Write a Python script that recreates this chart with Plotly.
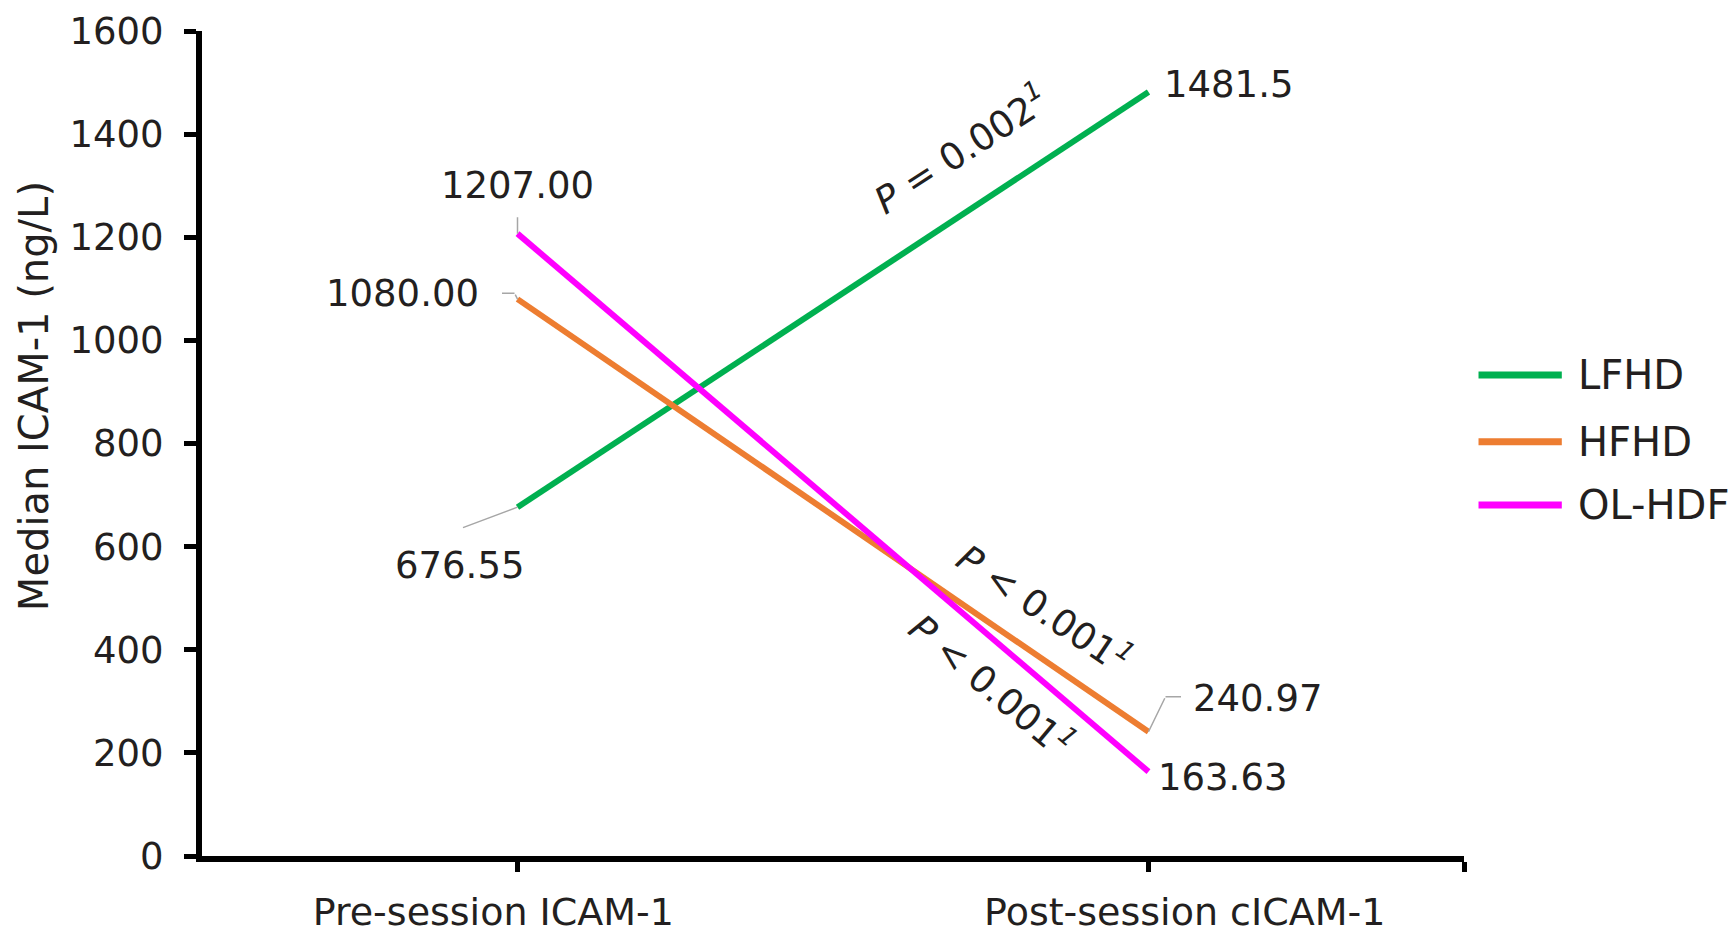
import plotly.graph_objects as go

# ---------------- data ----------------
categories = ["Pre-session ICAM-1", "Post-session cICAM-1"]
series_names = ["LFHD", "HFHD", "OL-HDF"]
lfhd_values = [676.55, 1481.5]
hfhd_values = [1080.00, 240.97]
olhdf_values = [1207.00, 163.63]
lfhd_labels = ["676.55", "1481.5"]
hfhd_labels = ["1080.00", "240.97"]
olhdf_labels = ["1207.00", "163.63"]
p_value_texts = ["<i>P</i> = 0.002<sup><i>1</i></sup>",
                 "<i>P</i> &lt; 0.001<sup><i>1</i></sup>",
                 "<i>P</i> &lt; 0.001<sup><i>1</i></sup>"]
y_tick_values = [0, 200, 400, 600, 800, 1000, 1200, 1400, 1600]
y_title = "Median ICAM-1 (ng/L)"

values = [lfhd_values, hfhd_values, olhdf_values]
labels = [lfhd_labels, hfhd_labels, olhdf_labels]

# ---------------- style ----------------
colors = ["#00B050", "#ED7D31", "#FF00FF"]
FONT = "DejaVu Sans, Verdana, sans-serif"
TXT = "#231F20"
LEADER = "#A6A6A6"
FS = 37
# label centre offsets in pixels (dx right, dy up) per series per point
label_offsets = [[(-58, -58), (80, 8)],
                 [(-115, 6), (109, 33)],
                 [(0, 48), (74, -6)]]
# leader polylines per series per point: list of (dx, dy-up) vertices starting at the point
leaders = [[[(0, 0), (-56, -21)], None],
           [[(0, 0), (-3, 6), (-17, 6)], [(0, 0), (17, 35), (34, 35)]],
           [[(0, 0), (0, 18)], None]]
# tick-label centring offsets (non-breaking spaces) to reproduce the original placement
tick_pad = [(0, 4), (6, 0)]
# p-value annotation positions (x in category index units, y in data units) and angles
p_positions = [(0.702, 1372, -33), (0.835, 481, 34), (0.752, 333, 40)]
legend_y = [0.583, 0.502, 0.4255]

x_idx = list(range(len(categories)))

fig = go.Figure()
for name, vals, col in zip(series_names, values, colors):
    fig.add_trace(go.Scatter(x=x_idx, y=vals, mode="lines", name=name,
                             line=dict(color=col, width=6),
                             showlegend=False, hoverinfo="x+y+name"))

annotations = []
for vals, labs, offs, leads in zip(values, labels, label_offsets, leaders):
    for i, (v, lab, (dx, dy), lead) in enumerate(zip(vals, labs, offs, leads)):
        annotations.append(dict(x=x_idx[i], y=v, xref="x", yref="y", text=lab,
                                showarrow=False, xshift=dx, yshift=dy,
                                font=dict(family=FONT, size=FS, color=TXT)))
        if lead:
            for (x0, y0), (x1, y1) in zip(lead[:-1], lead[1:]):
                annotations.append(dict(x=x_idx[i], y=v, xref="x", yref="y", text="",
                                        showarrow=True, xshift=x0, yshift=y0,
                                        ax=x1 - x0, ay=-(y1 - y0), arrowhead=0,
                                        arrowwidth=1.5, arrowcolor=LEADER, standoff=0,
                                        startstandoff=0))

for txt, (px, py, ang) in zip(p_value_texts, p_positions):
    annotations.append(dict(x=px, y=py, xref="x", yref="y", text=txt, showarrow=False,
                            textangle=ang, font=dict(family=FONT, size=FS, color=TXT)))

# y-axis title
annotations.append(dict(x=-0.133, y=0.5576, xref="paper", yref="paper", text=y_title,
                        showarrow=False, textangle=-90, xanchor="center", yanchor="middle",
                        font=dict(family=FONT, size=40, color=TXT)))

# legend (drawn in paper space)
shapes = []
for name, col, ly in zip(series_names, colors, legend_y):
    shapes.append(dict(type="line", xref="paper", yref="paper", x0=1.0115, x1=1.0775,
                       y0=ly, y1=ly, line=dict(color=col, width=7)))
    annotations.append(dict(x=1.0885, y=ly, xref="paper", yref="paper", text=name,
                            showarrow=False, xanchor="left", yanchor="middle",
                            font=dict(family=FONT, size=40, color=TXT)))

ticktext = ["\u00a0" * a + c + "\u00a0" * b for c, (a, b) in zip(categories, tick_pad)]

fig.update_layout(
    width=1736, height=940,
    margin=dict(l=194, r=280, t=23, b=92, autoexpand=False),
    paper_bgcolor="white", plot_bgcolor="white",
    showlegend=False,
    annotations=annotations, shapes=shapes,
    font=dict(family=FONT, size=FS, color=TXT),
    xaxis=dict(range=[-0.5, 1.5], tickmode="array", tickvals=[0, 1, 1.5],
               ticktext=ticktext + [""], ticks="outside", ticklen=10, tickwidth=5,
               tickcolor="black", showline=True, linecolor="black", linewidth=6,
               showgrid=False, zeroline=False, ticklabelstandoff=7, automargin=False,
               tickfont=dict(family=FONT, size=38, color=TXT)),
    xaxis2=dict(range=[-0.5, 1.5], overlaying="x", anchor="y", side="bottom",
                tickmode="array", tickvals=[0, 1, 1.5], ticks="inside", ticklen=10,
                tickwidth=5, tickcolor="black", showticklabels=False, showline=False,
                showgrid=False, zeroline=False, automargin=False),
    yaxis=dict(range=[0, 1600], tickmode="array", tickvals=y_tick_values,
               ticks="outside", ticklen=12, tickwidth=5, tickcolor="black",
               showline=True, linecolor="black", linewidth=6, showgrid=False,
               zeroline=False, ticklabelstandoff=13, automargin=False,
               tickfont=dict(family=FONT, size=FS, color=TXT)),
    yaxis2=dict(range=[0, 1600], overlaying="y", anchor="x", side="left",
                tickmode="array", tickvals=y_tick_values, ticks="inside", ticklen=12,
                tickwidth=5, tickcolor="black", showticklabels=False, showline=False,
                showgrid=False, zeroline=False, automargin=False),
)

fig.write_html("out.html")
